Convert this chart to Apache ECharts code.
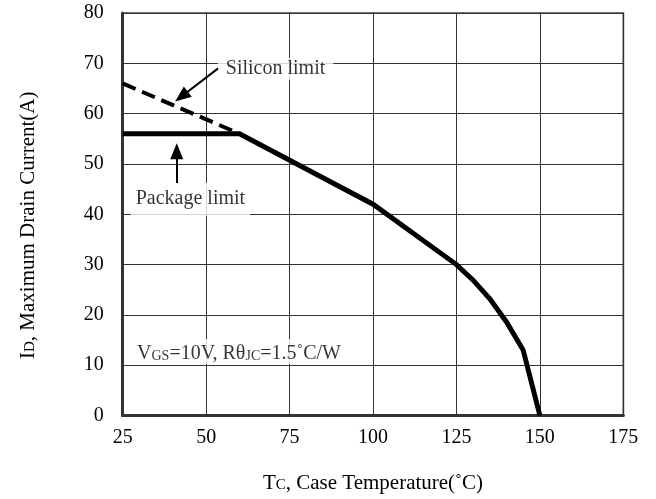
<!DOCTYPE html>
<html>
<head>
<meta charset="utf-8">
<script src="https://cdn.jsdelivr.net/npm/echarts@6/dist/echarts.min.js"></script>
<style>
html,body{margin:0;padding:0;background:#fff;}
#chart{width:656px;height:499px;}
</style>
</head>
<body>
<div id="chart"></div>
<script>
// ---- data ----
const xTicks = [25, 50, 75, 100, 125, 150, 175];
const yTicks = [0, 10, 20, 30, 40, 50, 60, 70, 80];
// Maximum drain current vs case temperature (package limit 56 A up to ~60 C)
const tcMain = [25, 60, 100, 125, 130, 135, 140, 145, 150];
const idMain = [56, 56, 42, 30, 26.9, 23.2, 18.6, 13, 0];
// Silicon limit (dashed)
const tcSilicon = [25, 60];
const idSilicon = [66, 56];
// Annotations (data coordinates)
const annoTexts = ['Silicon limit', 'Package limit'];
const annoAt = [[70.8, 68.9], [45.3, 43.0]];
const arrowFrom = [[53.6, 69.0], [41.2, 46.2]];
const arrowTo = [[42.6, 63.4], [41.2, 52.5]];
const condAt = [28.1, 12.7];

const FONT = 'Liberation Serif';
const INK = '#000';
const chart = echarts.init(document.getElementById('chart'), null, {renderer: 'canvas'});

const mainData = tcMain.map((x, i) => [x, idMain[i]]);
const siData = tcSilicon.map((x, i) => [x, idSilicon[i]]);

const textItems = annoTexts.map((t, i) => ({
  value: annoAt[i],
  label: {
    show: true, position: 'inside', formatter: t,
    fontFamily: FONT, fontSize: 20, color: INK,
    backgroundColor: '#fff',
    padding: i === 0 ? [1, 8, 1, 8] : [6, 5, 7, 5],
    lineHeight: 20
  }
}));
textItems.push({
  value: condAt,
  label: {
    show: true, position: 'inside', align: 'left',
    formatter: '{n|V}{s|GS}{n|=10V, R}{n|θ}{s|JC}{n|=1.5˚C/W}',
    backgroundColor: '#fff',
    padding: [5, 4, 0, 4],
    rich: {
      n: {fontFamily: FONT, fontSize: 20, color: INK, verticalAlign: 'bottom', lineHeight: 20},
      s: {fontFamily: FONT, fontSize: 14, color: INK, verticalAlign: 'bottom', lineHeight: 20, padding: [0, 0, 1, 0]}
    }
  }
});

const option = {
  animation: false,
  backgroundColor: '#fff',
  grid: {
    left: 122.7, right: 32.7, top: 13, bottom: 83.5,
    show: true, borderColor: '#777', borderWidth: 2, backgroundColor: 'transparent'
  },
  xAxis: {
    type: 'value', min: xTicks[0], max: xTicks[xTicks.length - 1], interval: 25,
    name: '{n|T}{s|C}{n|, Case Temperature(˚C)}',
    nameLocation: 'middle', nameGap: 56,
    nameTextStyle: {
      rich: {
        n: {fontFamily: FONT, fontSize: 21, color: INK, verticalAlign: 'bottom', lineHeight: 22},
        s: {fontFamily: FONT, fontSize: 15, color: INK, verticalAlign: 'bottom', lineHeight: 22, padding: [0, 0, 1, 0]}
      }
    },
    axisLine: {show: true, onZero: false, lineStyle: {color: '#333', width: 3}},
    axisTick: {show: false},
    axisLabel: {margin: 12, fontFamily: FONT, fontSize: 20, color: INK},
    splitLine: {show: true, lineStyle: {color: '#333', width: 1}}
  },
  yAxis: {
    type: 'value', min: yTicks[0], max: yTicks[yTicks.length - 1], interval: 10,
    name: '{n|I}{s|D}{n|, Maximum Drain Current(A)}',
    nameLocation: 'middle', nameGap: 84, nameRotate: 90,
    nameTextStyle: {
      padding: [0, 22, 0, 0],
      rich: {
        n: {fontFamily: FONT, fontSize: 21, color: INK, verticalAlign: 'bottom', lineHeight: 22},
        s: {fontFamily: FONT, fontSize: 15, color: INK, verticalAlign: 'bottom', lineHeight: 22, padding: [0, 0, 1, 0]}
      }
    },
    axisLine: {show: true, onZero: false, lineStyle: {color: '#333', width: 3}},
    axisTick: {show: false},
    axisLabel: {margin: 19, fontFamily: FONT, fontSize: 20, color: INK},
    splitLine: {show: true, lineStyle: {color: '#333', width: 1}}
  },
  series: [
    {
      type: 'line', name: 'Silicon limit', data: siData,
      symbol: 'none', lineStyle: {color: '#000', width: 4, type: [14, 7]}, z: 3
    },
    {
      type: 'line', name: 'ID', data: mainData,
      symbol: 'none', lineStyle: {color: '#000', width: 5, join: 'miter'}, z: 4
    },
    {
      type: 'scatter', name: 'annotations', data: textItems,
      symbolSize: 1, itemStyle: {color: 'rgba(0,0,0,0)'}, z: 2, silent: true,
      markLine: {
        silent: true, animation: false,
        symbol: ['none', 'triangle'], symbolSize: [13, 16],
        lineStyle: {color: '#000', width: 2, type: 'solid'},
        itemStyle: {color: '#000'},
        label: {show: false},
        data: arrowFrom.map((p, i) => [{coord: p}, {coord: arrowTo[i]}])
      }
    }
  ]
};
chart.setOption(option);
</script>
</body>
</html>
